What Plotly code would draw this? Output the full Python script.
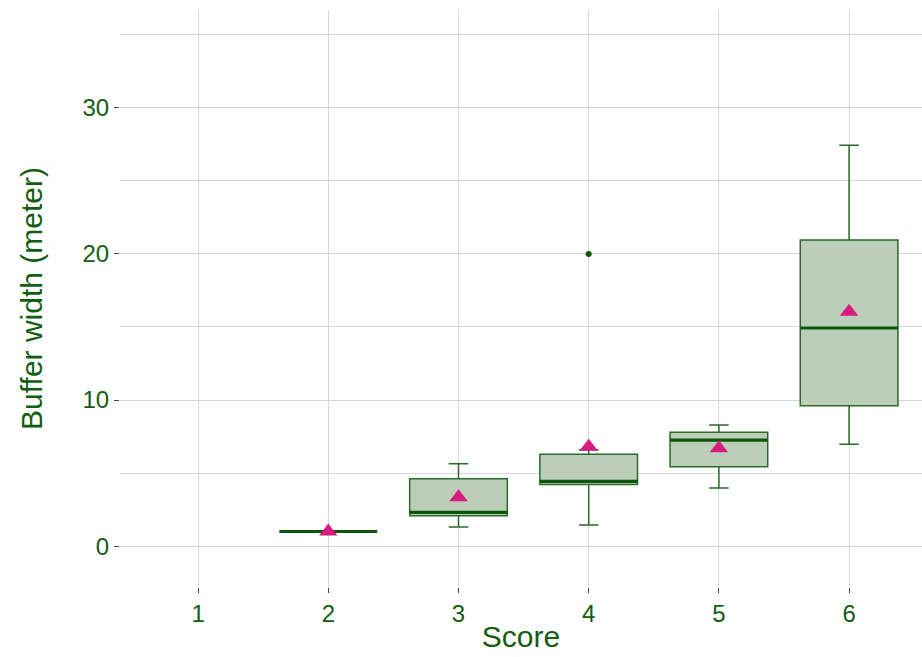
import plotly.graph_objects as go

# Score categories and box statistics (Score 1 has no observations)
scores = [1, 2, 3, 4, 5, 6]
box_scores = [2, 3, 4, 5, 6]
lower_whisker = [1.0, 1.3, 1.45, 3.97, 6.97]
q1 = [1.0, 2.08, 4.22, 5.43, 9.61]
median = [1.0, 2.31, 4.43, 7.26, 14.93]
q3 = [1.0, 4.61, 6.28, 7.79, 20.96]
upper_whisker = [1.0, 5.64, 6.6, 8.29, 27.44]
means = [1.0, 3.35, 6.8, 6.69, 16.05]

outlier_scores = [4]
outlier_values = [20.0]

DARK = "#115e11"
BOX_LINE = "#2a6a2a"
FILL = "#bccdb8"
MEAN_COL = "#d81b7f"
GRID = "#cfdccf"
BOX_W = 0.75

fig = go.Figure()

fig.add_trace(go.Box(
    x=box_scores,
    q1=q1, median=median, q3=q3,
    lowerfence=lower_whisker, upperfence=upper_whisker,
    width=BOX_W,
    whiskerwidth=0.2,
    fillcolor=FILL,
    line=dict(color=BOX_LINE, width=1.5),
    boxpoints=False,
    showlegend=False,
    hoverinfo="skip",
))

# thicker median bars drawn over the boxes
for s, m in zip(box_scores, median):
    fig.add_trace(go.Scatter(
        x=[s - BOX_W / 2, s + BOX_W / 2], y=[m, m],
        mode="lines", line=dict(color="#0b560b", width=3.2),
        showlegend=False, hoverinfo="skip",
    ))

# outliers
fig.add_trace(go.Scatter(
    x=outlier_scores, y=outlier_values, mode="markers",
    marker=dict(color="#0b560b", size=6),
    showlegend=False, hoverinfo="skip",
))

# group means
fig.add_trace(go.Scatter(
    x=box_scores, y=means, mode="markers",
    marker=dict(symbol="triangle-up", color=MEAN_COL, size=16, line=dict(width=0)),
    showlegend=False, hoverinfo="skip",
))

font_family = "Liberation Sans, Arial, sans-serif"

fig.update_layout(
    width=922, height=657,
    margin=dict(l=120, r=0, t=10, b=70),
    plot_bgcolor="white", paper_bgcolor="white",
    font=dict(family=font_family, color=DARK),
    xaxis=dict(
        range=[0.4, 6.56],
        tickvals=scores, ticktext=[str(s) for s in scores],
        showgrid=True, gridcolor=GRID, gridwidth=1,
        zeroline=False, showline=False,
        ticks="outside", ticklen=5, tickcolor="#444444", tickwidth=1,
        tickfont=dict(size=24, color=DARK),
        title=dict(text="Score", font=dict(size=30, color=DARK), standoff=0),
    ),
    yaxis=dict(
        range=[-2.8, 36.7],
        tickvals=[0, 10, 20, 30],
        showgrid=True, gridcolor=GRID, gridwidth=1,
        minor=dict(dtick=5, tick0=0, showgrid=True, gridcolor=GRID, gridwidth=1),
        zeroline=False, showline=False,
        ticks="outside", ticklen=5, tickcolor="#444444", tickwidth=1,
        tickfont=dict(size=24, color=DARK),
        title=dict(text="Buffer width (meter)", font=dict(size=30, color=DARK), standoff=30),
    ),
)

fig.write_html("out.html")
